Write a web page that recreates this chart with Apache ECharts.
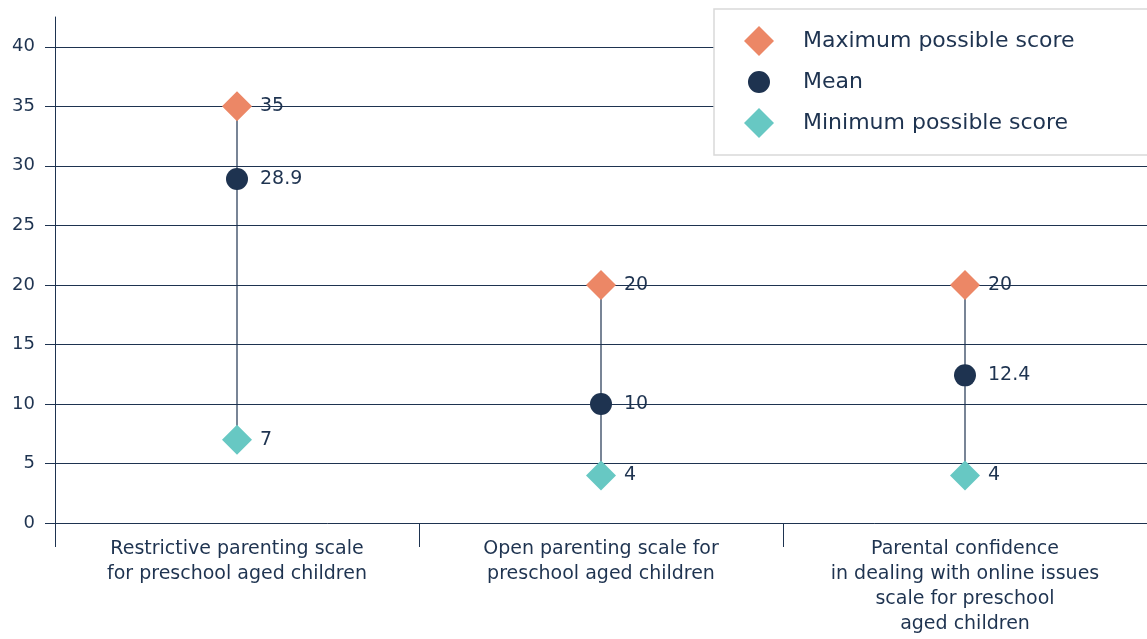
<!DOCTYPE html>
<html>
<head>
<meta charset="utf-8">
<script src="https://cdn.jsdelivr.net/npm/echarts@6/dist/echarts.min.js"></script>
<style>html,body{margin:0;padding:0;background:#fff;}#chart{width:1147px;height:639px;}</style>
</head>
<body>
<div id="chart"></div>
<script>
var categories = [
  'Restrictive parenting scale\nfor preschool aged children',
  'Open parenting scale for\npreschool aged children',
  'Parental confidence\nin dealing with online issues\nscale for preschool\naged children'
];
var maxScores = [35, 20, 20];
var meanScores = [28.9, 10, 12.4];
var minScores = [7, 4, 4];
var yTicks = [0, 5, 10, 15, 20, 25, 30, 35, 40];

var NAVY = '#1e3350';
var ORANGE = '#ec8766';
var TEAL = '#67c8c3';
var FONT = '"DejaVu Sans", sans-serif';

var rangeData = categories.map(function (c, i) { return [i, minScores[i], maxScores[i]]; });

var chart = echarts.init(document.getElementById('chart'));
chart.setOption({
  animation: false,
  textStyle: { fontFamily: FONT, color: NAVY },
  grid: { left: 55, right: 0, top: 17, bottom: 116, containLabel: false },
  legend: {
    left: 714, top: 9,
    orient: 'vertical',
    backgroundColor: '#fff',
    borderColor: '#d9d9d9', borderWidth: 1.5,
    padding: [17, 100, 17, 30],
    itemWidth: 30, itemHeight: 30, itemGap: 11,
    textStyle: { fontSize: 22, color: NAVY, fontFamily: FONT, padding: [0, 0, 0, 24] },
    data: [
      { name: 'Maximum possible score' },
      { name: 'Mean', icon: 'path://M0,0M30,30M15,4A11,11 0 1 1 14.99,4Z' },
      { name: 'Minimum possible score' }
    ]
  },
  xAxis: {
    type: 'category',
    data: categories,
    boundaryGap: true,
    axisLine: { show: true, lineStyle: { color: NAVY, width: 1 } },
    axisTick: { show: true, length: 24, lineStyle: { color: NAVY, width: 1 } },
    axisLabel: { color: NAVY, fontSize: 19, lineHeight: 25, margin: 14, fontFamily: FONT, interval: 0 },
    splitLine: { show: false }
  },
  yAxis: {
    type: 'value',
    min: 0, max: 42.5, interval: 5,
    axisLine: { show: true, lineStyle: { color: NAVY, width: 1 } },
    axisTick: { show: true, length: 10, lineStyle: { color: NAVY }, customValues: yTicks },
    axisLabel: { color: NAVY, fontSize: 18, margin: 20, fontFamily: FONT, customValues: yTicks },
    splitLine: { show: true, showMinLine: false, lineStyle: { color: NAVY, width: 1 } }
  },
  series: [
    {
      name: 'range',
      type: 'custom',
      z: 1,
      silent: true,
      data: rangeData,
      renderItem: function (params, api) {
        var p1 = api.coord([api.value(0), api.value(1)]);
        var p2 = api.coord([api.value(0), api.value(2)]);
        return {
          type: 'line',
          shape: { x1: p1[0], y1: p1[1], x2: p2[0], y2: p2[1] },
          style: { stroke: NAVY, lineWidth: 1.2 }
        };
      }
    },
    {
      name: 'Maximum possible score',
      type: 'scatter',
      z: 3,
      symbol: 'diamond',
      symbolSize: 30,
      itemStyle: { color: ORANGE, opacity: 1 },
      data: maxScores,
      label: { show: true, position: 'right', distance: 8, fontSize: 19, color: NAVY, fontFamily: FONT }
    },
    {
      name: 'Mean',
      type: 'scatter',
      z: 3,
      symbol: 'circle',
      symbolSize: 22,
      itemStyle: { color: NAVY, opacity: 1 },
      data: meanScores,
      label: { show: true, position: 'right', distance: 12, fontSize: 19, color: NAVY, fontFamily: FONT }
    },
    {
      name: 'Minimum possible score',
      type: 'scatter',
      z: 3,
      symbol: 'diamond',
      symbolSize: 30,
      itemStyle: { color: TEAL, opacity: 1 },
      data: minScores,
      label: { show: true, position: 'right', distance: 8, fontSize: 19, color: NAVY, fontFamily: FONT }
    }
  ]
});
</script>
</body>
</html>
